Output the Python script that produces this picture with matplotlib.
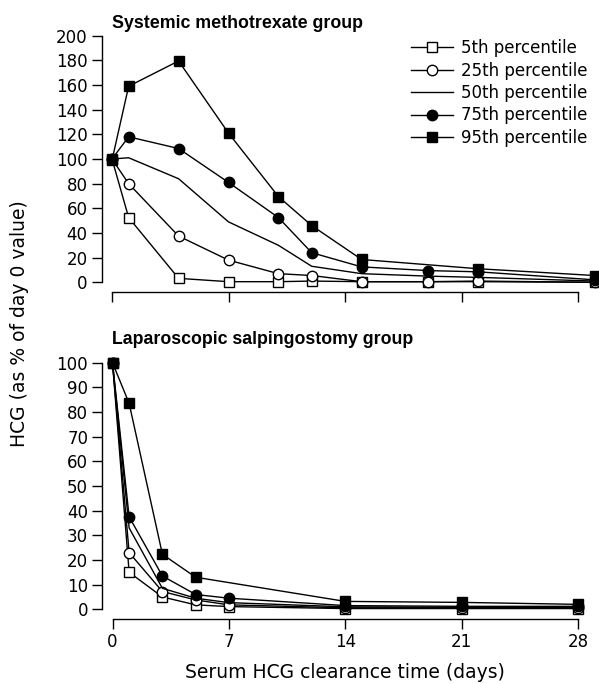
import matplotlib
matplotlib.use("Agg")
import matplotlib.pyplot as plt

# ---------------- data ----------------
labels = ["5th percentile", "25th percentile", "50th percentile",
          "75th percentile", "95th percentile"]

# Systemic methotrexate group
mtx_days = [0, 1, 4, 7, 10, 12, 15, 19, 22, 29]
mtx_p5 = [100, 52.5, 3.2, 0.5, 0.5, 1.0, 0.5, 0.5, 0.5, 0.0]
mtx_p25 = [100, 80, 37.5, 18, 7, 5.5, 0.5, 0.5, 1.0, 0.0]
mtx_p50 = [100, 101, 84, 49, 30, 13, 7, 5, 4, 1]
mtx_p75 = [100, 118, 108.5, 81, 52.5, 24, 12.5, 9.5, 8.5, 2]
mtx_p95_days = [0, 1, 4, 7, 10, 12, 15, 22, 29]
mtx_p95 = [99, 159, 179.5, 121, 69.5, 46, 18.5, 11, 5.5]

# Laparoscopic salpingostomy group
lap_days = [0, 1, 3, 5, 7, 14, 21, 28]
lap_p5 = [100, 15, 5, 1.8, 1.1, 0.3, 0.3, 0.3]
lap_p25 = [100, 23, 7.2, 3.8, 1.8, 0.6, 0.6, 0.6]
lap_p50 = [100, 33, 8.5, 4.5, 2.7, 1.0, 0.8, 0.8]
lap_p75 = [100, 37.5, 13.5, 6.0, 4.5, 1.5, 1.2, 1.2]
lap_p95_days = [0, 1, 3, 5, 14, 21, 28]
lap_p95 = [100, 83.5, 22.3, 13, 3.2, 2.8, 2.0]

x_ticks = [0, 7, 14, 21, 28]
top_yticks = list(range(0, 201, 20))
bot_yticks = list(range(0, 101, 10))

# ---------------- style ----------------
plt.rcParams['font.family'] = ['DejaVu Sans']
W, H = 599, 684
fig = plt.figure(figsize=(W / 100, H / 100), dpi=100)

styles = [
    dict(marker='s', mfc='white', mec='black'),
    dict(marker='o', mfc='white', mec='black'),
    dict(marker=None),
    dict(marker='o', mfc='black', mec='black'),
    dict(marker='s', mfc='black', mec='black'),
]

def px_axes(x0, x1, y_top, y_bot):
    return fig.add_axes([x0 / W, 1 - y_bot / H, (x1 - x0) / W, (y_bot - y_top) / H])

def style_axes(ax, yticks):
    for s in ['top', 'right']:
        ax.spines[s].set_visible(False)
    ax.spines['left'].set_position(('outward', 7.5))
    ax.spines['bottom'].set_position(('outward', 7))
    for s in ['left', 'bottom']:
        ax.spines[s].set_linewidth(1.0)
    ax.set_xlim(0, 28)
    ax.set_xticks(x_ticks)
    ax.set_yticks(yticks)
    ax.tick_params(length=7, width=1.0, labelsize=12, pad=3, colors='black')
    ax.patch.set_visible(False)

def draw(ax, series):
    handles = []
    for (d, v), st, lab in zip(series, styles, labels):
        h, = ax.plot(d, v, color='black', lw=1.0, ms=7.5, mew=1.0,
                     clip_on=False, label=lab, **st)
        handles.append(h)
    return handles

# top panel
ax1 = px_axes(112, 578, 35.7, 282.3)
ax1.set_ylim(0, 200)
style_axes(ax1, top_yticks)
ax1.tick_params(axis='x', labelbottom=False)
handles = draw(ax1, [(mtx_days, mtx_p5), (mtx_days, mtx_p25), (mtx_days, mtx_p50),
                     (mtx_days, mtx_p75), (mtx_p95_days, mtx_p95)])

# bottom panel
ax2 = px_axes(112.5, 578.3, 362.7, 609.3)
ax2.set_ylim(0, 100)
style_axes(ax2, bot_yticks)
draw(ax2, [(lap_days, lap_p5), (lap_days, lap_p25), (lap_days, lap_p50),
           (lap_days, lap_p75), (lap_p95_days, lap_p95)])

# titles
title_font = dict(family=['Liberation Sans', 'DejaVu Sans'],
                  fontweight='bold', fontsize=12.8)
fig.text(112 / W, 1 - 27.5 / H, "Systemic methotrexate group", ha='left',
         va='baseline', **title_font)
fig.text(112 / W, 1 - 344 / H, "Laparoscopic salpingostomy group", ha='left',
         va='baseline', **title_font)

fig.text(20 / W, 1 - 324 / H, "HCG (as % of day 0 value)", rotation=90,
         ha='center', va='center', fontsize=13.5)
fig.text(345 / W, 1 - 678 / H, "Serum HCG clearance time (days)",
         ha='center', va='baseline', fontsize=13.5)

fig.legend(handles=handles, loc='upper left',
           bbox_to_anchor=(411 / W, 1 - 39 / H), frameon=False,
           fontsize=12, handlelength=2.5, handletextpad=0.5,
           labelspacing=0.27, borderpad=0, borderaxespad=0)

fig.savefig("out.png", dpi=100)
